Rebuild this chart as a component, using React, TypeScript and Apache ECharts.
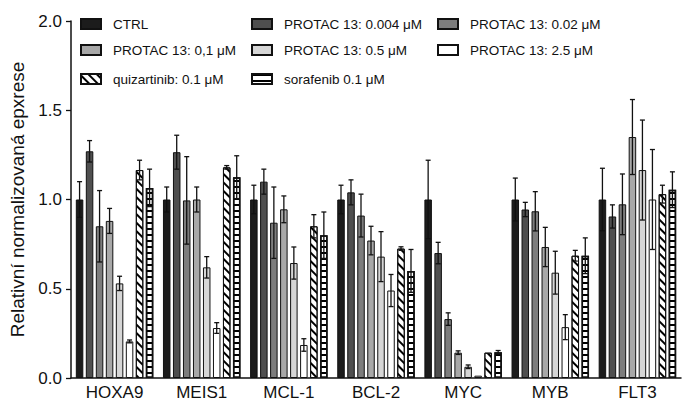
import React, { useEffect, useRef } from "react";
import * as echarts from "echarts";

const categories = ["HOXA9", "MEIS1", "MCL-1", "BCL-2", "MYC", "MYB", "FLT3"];
const yTicks = [0, 0.5, 1.0, 1.5, 2.0];

const seriesNames = [
  "CTRL",
  "PROTAC 13: 0.004 \u03bcM",
  "PROTAC 13: 0.02 \u03bcM",
  "PROTAC 13: 0,1 \u03bcM",
  "PROTAC 13: 0.5 \u03bcM",
  "PROTAC 13: 2.5 \u03bcM",
  "quizartinib: 0.1 \u03bcM",
  "sorafenib 0.1 \u03bcM",
];

const ctrl = [1.0, 1.0, 1.0, 1.0, 1.0, 1.0, 1.0];
const ctrlErr = [0.1, 0.07, 0.08, 0.08, 0.22, 0.12, 0.175];
const p0004 = [1.27, 1.265, 1.1, 1.04, 0.7, 0.944, 0.905];
const p0004Err = [0.06, 0.095, 0.07, 0.07, 0.06, 0.04, 0.065];
const p002 = [0.85, 0.995, 0.87, 0.91, 0.33, 0.934, 0.973];
const p002Err = [0.2, 0.245, 0.2, 0.12, 0.035, 0.11, 0.17];
const p01 = [0.88, 1.0, 0.945, 0.77, 0.142, 0.734, 1.35];
const p01Err = [0.07, 0.07, 0.075, 0.08, 0.01, 0.11, 0.21];
const p05 = [0.53, 0.62, 0.644, 0.68, 0.063, 0.59, 1.165];
const p05Err = [0.04, 0.06, 0.09, 0.14, 0.01, 0.12, 0.28];
const p25 = [0.205, 0.28, 0.185, 0.49, 0.013, 0.285, 1.0];
const p25Err = [0.008, 0.03, 0.035, 0.09, 0, 0.07, 0.28];
const quiz = [1.165, 1.18, 0.85, 0.725, 0.142, 0.685, 1.03];
const quizErr = [0.055, 0.01, 0.065, 0.01, 0, 0.03, 0.05];
const sora = [1.065, 1.125, 0.8, 0.6, 0.144, 0.685, 1.055];
const soraErr = [0.105, 0.12, 0.13, 0.12, 0.01, 0.1, 0.1];

const values = [ctrl, p0004, p002, p01, p05, p25, quiz, sora];
const errors = [ctrlErr, p0004Err, p002Err, p01Err, p05Err, p25Err, quizErr, soraErr];

const fills = ["#1c1c1c", "#4f4f4f", "#7d7d7d", "#a8a8a8", "#d6d6d6", "#ffffff", "#ffffff", "#ffffff"];

const legendPos = [
  [80, 25],
  [251, 25],
  [437, 25],
  [80, 51],
  [251, 51],
  [437, 51],
  [80, 80],
  [251, 80],
];

const FONT = "'Liberation Sans', Arial, Helvetica, sans-serif";
const BAR_W = 7.5;
const STEP = 10;

export default function App() {
  const ref = useRef<HTMLDivElement>(null);
  useEffect(() => {
    if (!ref.current) return;
    const chart = echarts.init(ref.current, null, { renderer: "svg" });

    const decals: any[] = [
      null,
      null,
      null,
      null,
      null,
      null,
      {
        symbol: "rect",
        symbolSize: 1,
        dashArrayX: [1, 0],
        dashArrayY: [1.2, 3.2],
        rotation: Math.PI / 4,
        color: "#000",
      },
      {
        symbol: "rect",
        symbolSize: 1,
        dashArrayX: [1, 0],
        dashArrayY: [2, 3.2],
        rotation: 0,
        color: "#000",
      },
    ];

    const barSeries = seriesNames.map((name, i) => ({
      name,
      type: "bar",
      barWidth: BAR_W,
      barGap: ((STEP - BAR_W) / BAR_W) * 100 + "%",
      data: values[i],
      itemStyle: {
        color: fills[i],
        borderColor: "#111",
        borderWidth: i === 7 ? 1.5 : 1,
        decal: decals[i] || undefined,
      },
      z: 2,
    }));

    const errData: any[] = [];
    values.forEach((arr, s) => {
      arr.forEach((v, c) => {
        errData.push([c, v, errors[s][c], s]);
      });
    });

    const errorSeries = {
      type: "custom",
      z: 5,
      data: errData,
      renderItem: (params: any, api: any) => {
        const c = api.value(0);
        const v = api.value(1);
        const e = api.value(2);
        const s = api.value(3);
        if (e < 0.004) return null;
        const x = api.coord([c, 0])[0] + (s - 3.5) * STEP;
        const yt = api.coord([c, v + e])[1];
        const yb = api.coord([c, Math.max(0, v - e)])[1];
        const cap = 2.5;
        const st = { stroke: "#111", lineWidth: 1.3 };
        return {
          type: "group",
          children: [
            { type: "line", shape: { x1: x, y1: yt, x2: x, y2: yb }, style: st },
            { type: "line", shape: { x1: x - cap, y1: yt, x2: x + cap, y2: yt }, style: st },
            { type: "line", shape: { x1: x - cap, y1: yb, x2: x + cap, y2: yb }, style: st },
          ],
        };
      },
    };

    const legends = seriesNames.map((name, i) => ({
      data: [name],
      left: legendPos[i][0],
      top: legendPos[i][1] - 8,
      padding: 0,
      itemWidth: 20,
      itemHeight: 10,
      icon: "rect",
      selectedMode: false,
      textStyle: {
        fontFamily: FONT,
        fontSize: 13.5,
        color: "#111",
        padding: [0, 0, 0, 7],
      },
    }));

    chart.setOption({
      animation: false,
      backgroundColor: "#fff",
      grid: { left: 71, right: 4, top: 21, bottom: 23, containLabel: false },
      legend: legends,
      xAxis: {
        type: "category",
        data: categories,
        axisLine: { lineStyle: { color: "#111", width: 1.5 } },
        axisTick: { alignWithLabel: true, length: 5, lineStyle: { color: "#111", width: 1.3 } },
        axisLabel: { fontFamily: FONT, fontSize: 17, color: "#111", margin: 6 },
      },
      yAxis: {
        type: "value",
        min: 0,
        max: 2,
        interval: 0.5,
        name: "Relativn\u00ed normalizovan\u00e1 epxrese",
        nameLocation: "middle",
        nameGap: 44,
        nameRotate: 90,
        nameTextStyle: { fontFamily: FONT, fontSize: 19, color: "#111" },
        axisLine: { show: true, lineStyle: { color: "#111", width: 1.5 } },
        axisTick: { show: true, length: 5, lineStyle: { color: "#111", width: 1.3 } },
        splitLine: { show: false },
        axisLabel: {
          fontFamily: FONT,
          fontSize: 17,
          color: "#111",
          margin: 9,
          formatter: (v: number) => (yTicks.includes(v) ? v.toFixed(1) : ""),
        },
      },
      series: [...barSeries, errorSeries],
    });
    return () => chart.dispose();
  }, []);

  return (
    <div
      ref={ref}
      style={{ position: "absolute", left: 0, top: 0, width: 685, height: 401 }}
    />
  );
}
